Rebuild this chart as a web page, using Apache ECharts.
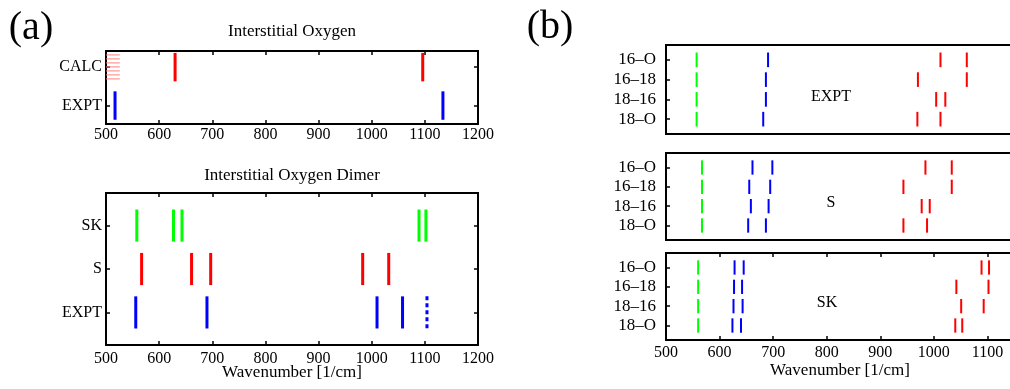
<!DOCTYPE html>
<html>
<head>
<meta charset="utf-8">
<script src="https://cdn.jsdelivr.net/npm/echarts@6/dist/echarts.min.js"></script>
<style>
html,body{margin:0;padding:0;background:#fff;overflow:hidden;width:1010px;height:389px;}
#c{width:1060px;height:389px;}
</style>
</head>
<body>
<div id="c"></div>
<script>
// ---------- data ----------
const xTickValues = [500, 600, 700, 800, 900, 1000, 1100, 1200];

// (a) top: Interstitial Oxygen
const aTopRows = ['EXPT', 'CALC'];            // y = 1, 2
const aTopCalc = [630, 1096];
const aTopExpt = [517, 1134];
const aTopHatch = [[500, 526]];               // legend-like hatch at left edge (CALC row)

// (a) bottom: Interstitial Oxygen Dimer
const aBotRows = ['EXPT', 'S', 'SK'];         // y = 1, 2, 3
const aBotSK = [558, 627, 643, 1089, 1102];
const aBotS = [567, 661, 697, 983, 1032];
const aBotExpt = [556, 690, 1010, 1058];
const aBotExptDotted = [1104];

// (b) rows, top to bottom: 16–O, 16–18, 18–16, 18–O  (y = 4, 3, 2, 1)
const bRows = ['16–O', '16–18', '18–16', '18–O'];
const bExptGreen = [557, 557, 557, 557];
const bExptBlue = [[690], [686], [686], [681]];
const bExptRed = [[1011, 1060], [969, 1060], [1003, 1020], [968, 1011]];
const bSGreen = [567, 567, 567, 567];
const bSBlue = [[661, 698], [655, 694], [658, 691], [653, 686]];
const bSRed = [[983, 1032], [942, 1032], [976, 991], [942, 986]];
const bSKGreen = [560, 560, 560, 560];
const bSKBlue = [[628, 645], [627, 642], [626, 643], [624, 640]];
const bSKRed = [[1089, 1103], [1042, 1102], [1051, 1093], [1040, 1053]];

// ---------- helpers ----------
const FONT = '"Liberation Serif", "DejaVu Serif", serif';
const RED = '#ff0000', BLUE = '#0000ff', GREEN = '#00ff00';
const HALF = 0.37;

function rowPoints(values, y) { return values.map(v => [v, y]); }
function panelPoints(rowsData) {
  const n = rowsData.length;
  const out = [];
  rowsData.forEach((r, i) => {
    const arr = Array.isArray(r) ? r : [r];
    arr.forEach(v => out.push([v, n - i]));
  });
  return out;
}
function stickSeries(gi, data, color, width, dash) {
  return {
    type: 'custom', xAxisIndex: gi * 2, yAxisIndex: gi * 2, data: data,
    clip: true, silent: true,
    renderItem: function (params, api) {
      const x = api.value(0), y = api.value(1);
      const p1 = api.coord([x, y + HALF]);
      const p2 = api.coord([x, y - HALF]);
      return {
        type: 'line',
        shape: { x1: p1[0], y1: p1[1], x2: p2[0], y2: p2[1] },
        style: { stroke: color, lineWidth: width, lineDash: dash || null, fill: null }
      };
    }
  };
}

const grids = [
  { left: 106, top: 51, width: 372, height: 73 },
  { left: 106, top: 193, width: 372, height: 152 },
  { left: 666, top: 45, width: 376, height: 89 },
  { left: 666, top: 153, width: 376, height: 87 },
  { left: 666, top: 253, width: 376, height: 87 }
];
const yRanges = [[0.52, 2.42], [0.25, 3.75], [0.25, 4.75], [0.25, 4.75], [0.25, 4.75]];
const yLabels = [aTopRows, aBotRows, bRows.slice().reverse(), bRows.slice().reverse(), bRows.slice().reverse()];
const showXLabels = [true, true, false, false, true];
const showXTicks = [true, true, false, false, true];
const xLabelMargin = [3, 6, 0, 0, 5];
const yLabelMargin = [4, 4, 10, 10, 10];
const yFont = [16, 16, 17, 17, 17];

const xAxes = [], yAxes = [];
grids.forEach((g, i) => {
  const base = {
    type: 'value', gridIndex: i, min: 500, max: 1200, interval: 100,
    splitLine: { show: false }, axisLine: { show: false }
  };
  xAxes.push(Object.assign({}, base, {
    position: 'bottom',
    axisTick: { show: showXTicks[i], inside: true, length: 4, lineStyle: { color: '#000', width: 1.5 } },
    axisLabel: { show: showXLabels[i], color: '#000', fontFamily: FONT, fontSize: 16, margin: xLabelMargin[i],
      showMinLabel: true, showMaxLabel: true, formatter: v => String(v) }
  }));
  xAxes.push(Object.assign({}, base, {
    position: 'top',
    axisTick: { show: showXTicks[i], inside: true, length: 4, lineStyle: { color: '#000', width: 1.5 } },
    axisLabel: { show: false }
  }));
  const labels = yLabels[i];
  const vals = labels.map((_, k) => k + 1);
  const ybase = {
    type: 'value', gridIndex: i, min: yRanges[i][0], max: yRanges[i][1],
    splitLine: { show: false }, axisLine: { show: false }
  };
  yAxes.push(Object.assign({}, ybase, {
    position: 'left',
    axisTick: { show: true, inside: true, length: 4, customValues: vals, lineStyle: { color: '#000', width: 1.5 } },
    axisLabel: { show: true, customValues: vals, color: '#000', fontFamily: FONT, fontSize: yFont[i], margin: yLabelMargin[i],
      formatter: v => labels[Math.round(v) - 1] }
  }));
  yAxes.push(Object.assign({}, ybase, {
    position: 'right',
    axisTick: { show: true, inside: true, length: 4, customValues: vals, lineStyle: { color: '#000', width: 1.5 } },
    axisLabel: { show: false }
  }));
});

const series = [
  {
    type: 'custom', xAxisIndex: 0, yAxisIndex: 0, silent: true, clip: true,
    data: aTopHatch.map(r => [r[0], r[1], 2]),
    renderItem: function (params, api) {
      const a = api.coord([api.value(0), api.value(2) + HALF]);
      const b = api.coord([api.value(1), api.value(2) - HALF]);
      const children = [];
      for (let y = a[1] + 2; y < b[1] - 2; y += 4) {
        children.push({ type: 'line', shape: { x1: a[0], y1: y, x2: b[0], y2: y },
          style: { stroke: '#ff7f7f', lineWidth: 1 } });
      }
      return { type: 'group', children: children };
    }
  },
  stickSeries(0, rowPoints(aTopCalc, 2), RED, 3),
  stickSeries(0, rowPoints(aTopExpt, 1), BLUE, 3),
  stickSeries(1, rowPoints(aBotSK, 3), GREEN, 3),
  stickSeries(1, rowPoints(aBotS, 2), RED, 3),
  stickSeries(1, rowPoints(aBotExpt, 1), BLUE, 3),
  stickSeries(1, rowPoints(aBotExptDotted, 1), BLUE, 3, [4, 3]),
  stickSeries(2, panelPoints(bExptGreen), GREEN, 2),
  stickSeries(2, panelPoints(bExptBlue), BLUE, 2),
  stickSeries(2, panelPoints(bExptRed), RED, 2),
  stickSeries(3, panelPoints(bSGreen), GREEN, 2),
  stickSeries(3, panelPoints(bSBlue), BLUE, 2),
  stickSeries(3, panelPoints(bSRed), RED, 2),
  stickSeries(4, panelPoints(bSKGreen), GREEN, 2),
  stickSeries(4, panelPoints(bSKBlue), BLUE, 2),
  stickSeries(4, panelPoints(bSKRed), RED, 2)
];

const T = (x, y, text, size) => ({ type: 'text', x: x, y: y, silent: true,
  style: { text: text, fontFamily: FONT, fontSize: size, fill: '#000', align: 'center', verticalAlign: 'middle' } });

const chart = echarts.init(document.getElementById('c'), null, { renderer: 'canvas' });
chart.setOption({
  animation: false,
  backgroundColor: '#fff',
  grid: grids.map(g => Object.assign({ show: true, borderColor: '#000', borderWidth: 2, backgroundColor: 'transparent', containLabel: false }, g)),
  xAxis: xAxes,
  yAxis: yAxes,
  series: series,
  graphic: [
    T(31, 28, '(a)', 40),
    T(550, 27, '(b)', 40),
    T(292, 32, 'Interstitial Oxygen', 17),
    T(292, 176, 'Interstitial Oxygen Dimer', 17),
    T(292, 373, 'Wavenumber [1/cm]', 17),
    T(840, 371, 'Wavenumber [1/cm]', 17),
    T(831, 97, 'EXPT', 16),
    T(831, 203, 'S', 16),
    T(827, 303, 'SK', 16)
  ]
});
</script>
</body>
</html>
